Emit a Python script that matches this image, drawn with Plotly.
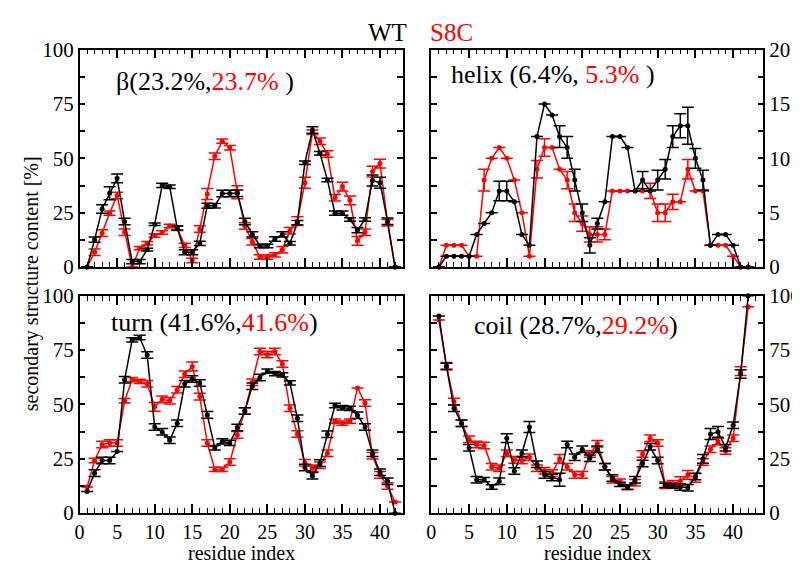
import plotly.graph_objects as go

residues = list(range(1, 43))

# beta (%)
beta_wt = [0, 12.6, 26.7, 33.9, 40.8, 20.9, 2.5, 2.5, 8, 19.7, 37.6, 36.9, 18, 6.8, 6.8, 10.9, 28.2, 28.2, 33.8, 33.8,
           34, 20.9, 15, 9.7, 9.7, 12.9, 15, 10.9, 20.4, 48, 63, 52.4, 40, 24.8, 24.8, 21.9, 17, 21.9, 39.8, 38.8, 21.1, 0]
beta_wt_err = [0, 1.2, 2, 3, 2, 1.5, 1, 1, 0.6, 0.6, 1, 0.8, 1, 1.2, 1.2, 1, 1.2, 1, 1.5, 1.5,
               1.5, 1.5, 1.2, 0.8, 0.8, 1, 1.2, 0.8, 1, 0.8, 1.5, 0.8, 0.8, 1, 1, 0.8, 1.2, 0.8, 2.5, 2.5, 1.5, 0]
beta_s8c = [0, 6.8, 15.6, 24.8, 32.9, 16, 0, 8.7, 10.9, 14.5, 15.9, 18.9, 17.8, 10, 3, 17.5, 33.6, 51, 57.9, 54.9,
            34.4, 18.9, 11.6, 4.6, 4.6, 5.6, 8, 16.7, 21.1, 38.8, 62, 57.9, 52, 31.9, 37, 30.7, 12, 16, 43.9, 47.6, 20.4, 0]
beta_s8c_err = [0, 1.5, 1.5, 1, 1.5, 1.5, 0, 0.8, 0.8, 0.8, 0.8, 0.8, 1, 1, 1, 1.5, 2.5, 1.5, 1, 1,
                3, 1.5, 1.5, 1, 1, 1, 1.5, 1.5, 2, 2.5, 1, 1.5, 1.5, 1.5, 2, 2, 2, 1.5, 2.5, 2, 1.5, 0]

# helix (%) on 0-20 axis
helix_wt = [0, 1, 1, 1, 1, 3, 4, 5, 7, 7, 6, 3, 2, 12, 15, 14, 12, 11, 8, 5,
            2, 4, 6, 12, 12, 11, 7, 8, 7, 8, 9, 12, 13, 13, 10, 8, 2, 3, 3, 2, 0, 0]
helix_wt_err = [0, 0, 0, 0, 0, 0, 0, 0, 0.9, 0.9, 0, 0, 0, 0, 0, 0, 1, 1, 1, 0.8,
                0.7, 0.5, 0, 0, 0, 0, 0, 0.8, 0, 0.9, 0.9, 1, 1.1, 1.7, 0.9, 0.9, 0, 0, 0, 0, 0, 0]
helix_s8c = [0, 2, 2, 2, 1, 1, 8, 10, 11, 10, 8, 5, 1, 9, 11, 11, 9, 8, 5, 4,
             3, 3, 3, 7, 7, 7, 7, 7, 7, 5, 5, 6, 6, 9, 7, 7, 2, 2, 2, 1, 0, 0]
helix_s8c_err = [0, 0, 0, 0, 0, 0, 1, 0, 0, 0, 0, 0, 0, 0.8, 0.8, 0, 0, 0.8, 0.8, 0.7,
                 0.7, 0.7, 0.5, 0, 0, 0, 0, 0, 0.7, 0.8, 0.8, 0.7, 0, 0.9, 0, 0, 0, 0, 0, 0, 0, 0]

# turn (%)
turn_wt = [10, 18.4, 24.2, 24.2, 28.3, 61.4, 79.7, 80.8, 72.7, 39.6, 37.4, 33.5, 41.4, 59.5, 61.7, 59.9, 45.2, 30.1, 33, 32.3,
           39.4, 47, 58.4, 62.4, 65.3, 64.2, 63.6, 59.9, 43.6, 21, 17.2, 23, 36.3, 49.5, 48.5, 48.2, 45, 39.6, 27.5, 18.8, 14.7, 0]
turn_wt_err = [0, 1.5, 1.5, 1.5, 0, 1.5, 1, 1, 1.5, 1.5, 1.5, 1.5, 1.5, 1.5, 1.5, 1.5, 1.5, 1, 1.2, 1.2,
               1.5, 1.5, 1.5, 1.5, 1, 1, 1, 1, 1.5, 1.5, 1.5, 1.5, 1.5, 1, 1, 1, 1.5, 1.5, 1.5, 1.5, 1.5, 0]
turn_s8c = [12, 24.2, 31.6, 32.3, 32.3, 51.7, 61.4, 60.6, 59.5, 48.9, 52.4, 51.7, 56.8, 63.9, 67.5, 53.6, 32.3, 20.1, 20.1, 23.5,
            36, 47, 60.2, 74.4, 73, 74.4, 68.6, 48.2, 36.4, 23.2, 20.6, 22, 27.6, 42.3, 41.4, 42.3, 57.6, 50.7, 26.4, 17.6, 12.5, 5.1]
turn_s8c_err = [0, 1, 1.5, 1.5, 1.5, 1, 1, 1, 1.5, 2, 1.5, 1.5, 1.5, 1.5, 2, 1.5, 1.5, 1, 1, 1.5,
                1.5, 1.5, 1.5, 1.5, 1.5, 1.5, 1.5, 1.5, 1.5, 1.5, 1.5, 1.5, 1.5, 1, 1, 1, 0, 1.5, 1.5, 1.5, 1.5, 0]

# coil (%)
coil_wt = [90.7, 67.5, 48.2, 41.4, 30.1, 15.4, 15.4, 12, 14.7, 34.5, 19.4, 27.6, 39.6, 22.5, 17.6, 16.4, 15.4, 31.6, 25.7, 29.4,
           25.3, 29.4, 21.3, 16.2, 13.2, 12, 15.4, 22.8, 30.5, 24.2, 12.8, 12.5, 12, 11.7, 16.9, 25, 36.4, 37.4, 30.1, 40.4, 64, 100]
coil_wt_err = [0, 1.5, 1.5, 1.5, 1.5, 1.5, 1, 1, 1.5, 2, 1.5, 1.5, 2.5, 1.5, 1.5, 1.5, 3, 1.5, 1.5, 1.5,
               1.5, 1.5, 1.5, 1.5, 1, 1, 1.5, 1.5, 1.5, 1.5, 1, 1, 1.5, 1.5, 1.5, 2, 2.5, 2.5, 1.5, 1.5, 2, 0]
coil_s8c = [88.8, 67.8, 51.4, 41.4, 34, 31.6, 31.1, 21.3, 20.6, 27.5, 24.5, 24.2, 25.7, 20.6, 19.5, 18.4, 25, 21.3, 17.6, 17.6,
            27.2, 31.9, 21.3, 15.4, 14.7, 11.7, 14, 27.2, 34.5, 32.3, 12.8, 13.5, 14.7, 17.6, 16.2, 23.5, 29.4, 33, 28.6, 34.5, 65.3, 95]
coil_s8c_err = [0, 1.5, 1.5, 1.5, 1.5, 1.5, 1.5, 1.5, 1.5, 1.5, 1.5, 1.5, 1.5, 1.5, 1.5, 1.5, 2, 1.5, 1.5, 1.5,
                1.5, 1.5, 1.5, 1.5, 1, 1, 1.5, 1.5, 1.5, 1.5, 1.5, 1.5, 2, 2, 2, 1.5, 1.5, 1.5, 1.5, 1.5, 2, 0]

y_ticks_100 = [0, 12.5, 25, 37.5, 50, 62.5, 75, 87.5, 100]
y_text_100 = ["0", "", "25", "", "50", "", "75", "", "100"]
y_ticks_20 = [0, 2.5, 5, 7.5, 10, 12.5, 15, 17.5, 20]
y_text_20 = ["0", "", "5", "", "10", "", "15", "", "20"]
x_ticks = [0, 5, 10, 15, 20, 25, 30, 35, 40]

FONT = "Times New Roman, Liberation Serif, DejaVu Serif, serif"
BLACK = "#000000"
RED = "#ff0000"

fig = go.Figure()

panels = [
    ("x", "y", beta_wt, beta_wt_err, beta_s8c, beta_s8c_err),
    ("x2", "y2", helix_wt, helix_wt_err, helix_s8c, helix_s8c_err),
    ("x3", "y3", turn_wt, turn_wt_err, turn_s8c, turn_s8c_err),
    ("x4", "y4", coil_wt, coil_wt_err, coil_s8c, coil_s8c_err),
]

for xa, ya, wt, wte, mut, mute in panels:
    for vals, errs, col in ((mut, mute, RED), (wt, wte, BLACK)):
        fig.add_trace(go.Scatter(
            x=residues, y=vals, xaxis=xa, yaxis=ya, mode="lines+markers",
            line=dict(color=col, width=1.5), marker=dict(color=col, size=5),
            error_y=dict(type="data", array=errs, visible=True, color=col, thickness=1.5, width=6),
            showlegend=False, cliponaxis=False,
        ))

W, H = 800, 565
def px(x0, x1):
    return [x0 / W, x1 / W]
def py(top, bottom):
    return [(H - bottom) / H, (H - top) / H]

common_x = dict(showline=True, linecolor=BLACK, linewidth=1.5, mirror="ticks", ticks="inside",
                ticklen=9, tickwidth=1.5, tickcolor=BLACK, tickvals=x_ticks, showgrid=False, zeroline=False,
                minor=dict(dtick=1, ticks="inside", ticklen=5, tickwidth=1.2, tickcolor=BLACK, showgrid=False),
                tickfont=dict(family=FONT, size=20, color=BLACK))
common_y = dict(showline=True, linecolor=BLACK, linewidth=1.5, mirror="ticks", ticks="inside",
                ticklen=6, tickwidth=1.5, tickcolor=BLACK, showgrid=False, zeroline=False,
                tickfont=dict(family=FONT, size=21, color=BLACK))

fig.update_layout(
    width=W, height=H, margin=dict(l=0, r=0, t=0, b=0),
    plot_bgcolor="white", paper_bgcolor="white",
    font=dict(family=FONT, color=BLACK),
    xaxis=dict(common_x, domain=px(67, 392), range=[0, 43], anchor="y", showticklabels=False),
    xaxis2=dict(common_x, domain=px(421, 755), range=[0, 44], anchor="y2", showticklabels=False),
    xaxis3=dict(common_x, domain=px(67, 392), range=[0, 43], anchor="y3"),
    xaxis4=dict(common_x, domain=px(421, 755), range=[0, 44], anchor="y4"),
    yaxis=dict(common_y, domain=py(31, 258), range=[0, 100], anchor="x", tickvals=y_ticks_100, ticktext=y_text_100),
    yaxis2=dict(common_y, domain=py(31, 258), range=[0, 20], anchor="x2", side="right", tickvals=y_ticks_20, ticktext=y_text_20),
    yaxis3=dict(common_y, domain=py(288, 515), range=[0, 100], anchor="x3", tickvals=y_ticks_100, ticktext=y_text_100),
    yaxis4=dict(common_y, domain=py(288, 515), range=[0, 100], anchor="x4", side="right", tickvals=y_ticks_100, ticktext=y_text_100),
)

def ann(text, x, y, size, xanchor="left", color=BLACK, angle=0):
    fig.add_annotation(text=text, x=x / W, y=(H - y) / H, xref="paper", yref="paper", showarrow=False,
                       xanchor=xanchor, yanchor="middle", textangle=angle,
                       font=dict(family=FONT, size=size, color=color))

ann("WT", 398, 13, 25, xanchor="right")
ann("S8C", 418, 13, 25, xanchor="left", color=RED)
ann("secondary structure content [%]", 18, 275, 20, xanchor="center", angle=-90)
ann("residue index", 230, 557, 20, xanchor="center")
ann("residue index", 588, 557, 20, xanchor="center")
ann("β(23.2%,<span style='color:#ff0000'>23.7%</span> )", 102, 64, 26)
ann("helix (6.4%, <span style='color:#ff0000'>5.3%</span> )", 439, 57, 26)
ann("turn (41.6%,<span style='color:#ff0000'>41.6%</span>)", 97, 316, 26)
ann("coil (28.7%,<span style='color:#ff0000'>29.2%</span>)", 462, 319, 26)

fig.write_html("out.html")
